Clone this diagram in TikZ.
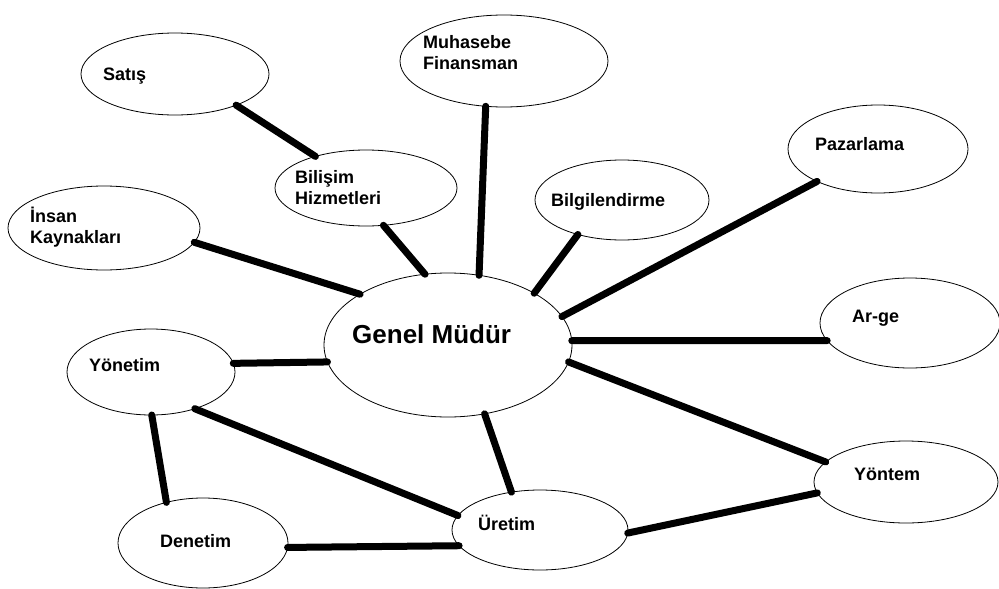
\documentclass[tikz,border=0pt]{standalone}
\usepackage{fontspec}
\setmainfont{Liberation Sans}
\usetikzlibrary{shapes.geometric}
\begin{document}
\begin{tikzpicture}[x=1pt,y=-1pt,
  ell/.style={ellipse,draw=black,line width=0.8pt,inner sep=0pt,outer sep=0pt},
  lbl/.style={anchor=base west,inner sep=0pt,font=\fontsize{18}{20.5}\selectfont\bfseries,align=left,text=black},
  big/.style={anchor=base west,inner sep=0pt,font=\fontsize{26}{30}\selectfont\bfseries,text=black},
  conn/.style={line width=7pt,line cap=round,black}]
\fill[white] (0,0) rectangle (999,589);
\useasboundingbox (0,0) rectangle (999,589);
% ellipses
\node[ell,minimum width=188pt,minimum height=82pt] (sat) at (175,74) {};
\node[ell,minimum width=208pt,minimum height=92pt] (muh) at (504,61) {};
\node[ell,minimum width=182pt,minimum height=76pt] (bil) at (366,188) {};
\node[ell,minimum width=174pt,minimum height=80pt] (blg) at (622,200) {};
\node[ell,minimum width=180pt,minimum height=88pt] (paz) at (878,149) {};
\node[ell,minimum width=192pt,minimum height=84pt] (ins) at (104,228) {};
\node[ell,minimum width=248pt,minimum height=144pt] (gm) at (448,345) {};
\node[ell,minimum width=180pt,minimum height=90pt] (arg) at (910,323) {};
\node[ell,minimum width=168pt,minimum height=86pt] (yon) at (151,372) {};
\node[ell,minimum width=184pt,minimum height=82pt] (ytm) at (906,482) {};
\node[ell,minimum width=176pt,minimum height=80pt] (ure) at (540,530) {};
\node[ell,minimum width=170pt,minimum height=90pt] (den) at (203,543) {};
% labels (multi-line nodes: base = last line)
\node[lbl] (tsat) at (103,80.5) {Satış};
\node[lbl] (tmuh) at (423,69) {Muhasebe\\Finansman};
\node[lbl] (tbil) at (295,204) {Bilişim\\Hizmetleri};
\node[lbl] (tblg) at (551,206) {Bilgilendirme};
\node[lbl] (tpaz) at (815,150) {Pazarlama};
\node[lbl] (tins) at (30,243) {İnsan\\Kaynakları};
\node[big] (tgm) at (352,343) {Genel Müdür};
\node[lbl] (targ) at (852,322) {Ar-ge};
\node[lbl] (tyon) at (89,371) {Yönetim};
\node[lbl] (tytm) at (854,480) {Yöntem};
\node[lbl] (ture) at (478,530) {Üretim};
\node[lbl] (tden) at (160,547) {Denetim};
% connectors
\draw[conn] (sat.-27) -- (bil.148);
\draw[conn] (bil.-65) -- (gm.108);
\draw[conn] (muh.248) -- (gm.66);
\draw[conn] (blg.218) -- (gm.31);
\draw[conn] (paz.208) -- (gm.14);
\draw[conn] (ins.-9) -- (gm.150);
\draw[conn] (yon.6.5) -- (gm.188);
\draw[conn] (gm.2) -- (arg.192);
\draw[conn] (gm.-8.5) -- (ytm.166);
\draw[conn] (gm.-62) -- (ure.127);
\draw[conn] (yon.-40) -- (ure.170);
\draw[conn] (yon.-89) -- (den.132);
\draw[conn] (den.-3) -- (ure.191);
\draw[conn] (ure.-2) -- (ytm.187);
\end{tikzpicture}
\end{document}
